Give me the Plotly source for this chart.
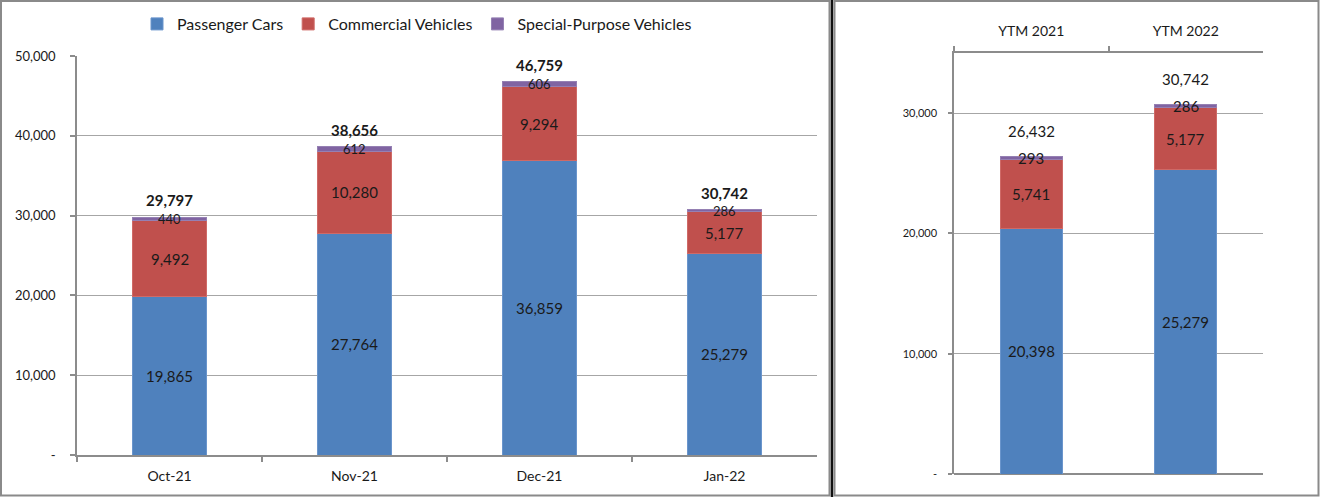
import plotly.graph_objects as go

# ---------------- data ----------------
months = ["Oct-21", "Nov-21", "Dec-21", "Jan-22"]
passenger = [19865, 27764, 36859, 25279]
commercial = [9492, 10280, 9294, 5177]
special = [440, 612, 606, 286]
totals = [29797, 38656, 46759, 30742]

ytm_cats = ["YTM 2021", "YTM 2022"]
ytm_passenger = [20398, 25279]
ytm_commercial = [5741, 5177]
ytm_special = [293, 286]
ytm_totals = [26432, 30742]

series_names = ["Passenger Cars", "Commercial Vehicles", "Special-Purpose Vehicles"]
left_ticks = [0, 10000, 20000, 30000, 40000, 50000]
left_ticktext = ["-", "10,000", "20,000", "30,000", "40,000", "50,000"]
right_ticks = [0, 10000, 20000, 30000]
right_ticktext = ["-", "10,000", "20,000", "30,000"]

# ---------------- style ----------------
W, H = 1320, 497
BLUE, RED, PURPLE = "#4F81BD", "#C0504D", "#8064A2"
EDGE = {BLUE: "#6A95CC", RED: "#CF6A67", PURPLE: "#9580B3"}
GRID = "#A6A6A6"
AXIS = "#8C8C8C"
TXT = "#1A1A1A"
FONT = "Lato"


def px(x):
    return x / W


def py(y):
    return 1 - y / H


fig = go.Figure()

colors = [BLUE, RED, PURPLE]
left_series = [passenger, commercial, special]
right_series = [ytm_passenger, ytm_commercial, ytm_special]

for name, col, vals in zip(series_names, colors, left_series):
    fig.add_trace(go.Bar(x=months, y=vals, name=name, marker=dict(color=col, line=dict(color=EDGE[col], width=1)),
                         width=0.4, xaxis="x", yaxis="y", hoverinfo="skip"))
for name, col, vals in zip(series_names, colors, right_series):
    fig.add_trace(go.Bar(x=ytm_cats, y=vals, name=name, marker=dict(color=col, line=dict(color=EDGE[col], width=1)),
                         width=0.4, xaxis="x2", yaxis="y2", showlegend=False, hoverinfo="skip"))

annotations = []


def seg_labels(cats, pcs, cvs, sps, tots, xr, yr, sp_size, tot_bold, tot_shift):
    for i, c in enumerate(cats):
        p, cv, s, t = pcs[i], cvs[i], sps[i], tots[i]
        annotations.append(dict(x=c, y=p / 2, xref=xr, yref=yr, text=f"{p:,}", showarrow=False,
                                font=dict(family=FONT, size=15, color=TXT)))
        annotations.append(dict(x=c, y=p + cv / 2, xref=xr, yref=yr, text=f"{cv:,}", showarrow=False,
                                font=dict(family=FONT, size=15, color=TXT)))
        annotations.append(dict(x=c, y=p + cv + s / 2, xref=xr, yref=yr, text=f"{s:,}", showarrow=False,
                                font=dict(family=FONT, size=sp_size, color=TXT)))
        ttxt = f"<b>{t:,}</b>" if tot_bold else f"{t:,}"
        annotations.append(dict(x=c, y=t, xref=xr, yref=yr, text=ttxt, showarrow=False, yshift=tot_shift,
                                font=dict(family=FONT, size=15, color=TXT)))


seg_labels(months, passenger, commercial, special, totals, "x", "y", 13, True, 17)
seg_labels(ytm_cats, ytm_passenger, ytm_commercial, ytm_special, ytm_totals, "x2", "y2", 15, False, 25)

shapes = [
    # left frame
    dict(type="rect", xref="paper", yref="paper", x0=px(1), x1=px(829.5), y0=py(495.5), y1=py(1),
         line=dict(color="#8A8A8A", width=2)),
    # separator
    dict(type="line", xref="paper", yref="paper", x0=px(832), x1=px(832), y0=0, y1=1,
         line=dict(color="#111111", width=2.5)),
    # right frame
    dict(type="rect", xref="paper", yref="paper", x0=px(834.5), x1=px(1318.5), y0=py(495.5), y1=py(1),
         line=dict(color="#8A8A8A", width=2)),
]

fig.update_layout(
    width=W, height=H,
    margin=dict(l=0, r=0, t=0, b=0, autoexpand=False),
    paper_bgcolor="white", plot_bgcolor="white",
    barmode="stack",
    font=dict(family=FONT, color=TXT),
    showlegend=True,
    legend=dict(orientation="h", traceorder="normal", x=px(417), xanchor="center", y=py(24), yanchor="middle",
                font=dict(family=FONT, size=16, color=TXT), itemwidth=30, bgcolor="rgba(0,0,0,0)"),
    xaxis=dict(domain=[px(77), px(817)], automargin=False, showline=True, linecolor=AXIS, linewidth=1.5,
               ticks="outside", tickson="boundaries", ticklen=5, tickcolor=AXIS, tickwidth=1.5,
               tickfont=dict(family=FONT, size=14, color=TXT), ticklabelstandoff=7,
               showgrid=False, zeroline=False, fixedrange=True),
    yaxis=dict(domain=[py(455), py(56)], range=[0, 50000], automargin=False, tickvals=left_ticks,
               ticktext=left_ticktext,
               showline=True, linecolor=AXIS, linewidth=1.5, ticks="outside", ticklen=5, tickcolor=AXIS,
               tickwidth=1.5, showgrid=True, gridcolor=GRID, gridwidth=1.2, zeroline=False,
               tickfont=dict(family=FONT, size=13, color=TXT), ticklabelstandoff=12, fixedrange=True),
    xaxis2=dict(domain=[px(954), px(1263)], anchor="y2", side="top", automargin=False, showline=True,
                linecolor=AXIS,
                linewidth=1.5, ticks="outside", tickson="boundaries", ticklen=5, tickcolor=AXIS, tickwidth=1.5,
                tickfont=dict(family=FONT, size=14, color=TXT), ticklabelstandoff=10,
                showgrid=False, zeroline=False, fixedrange=True),
    yaxis2=dict(domain=[py(474), py(53)], range=[0, 35000], anchor="x2", automargin=False, tickvals=right_ticks,
                ticktext=right_ticktext, showline=True, linecolor=AXIS, linewidth=1.5, ticks="outside",
                ticklen=4, tickcolor=AXIS, tickwidth=1.5, showgrid=True, gridcolor=GRID, gridwidth=1.2,
                zeroline=True, zerolinecolor=AXIS, zerolinewidth=1.5,
                tickfont=dict(family=FONT, size=11, color=TXT), ticklabelstandoff=9, fixedrange=True),
    annotations=annotations,
    shapes=shapes,
)

fig.write_html("out.html")
